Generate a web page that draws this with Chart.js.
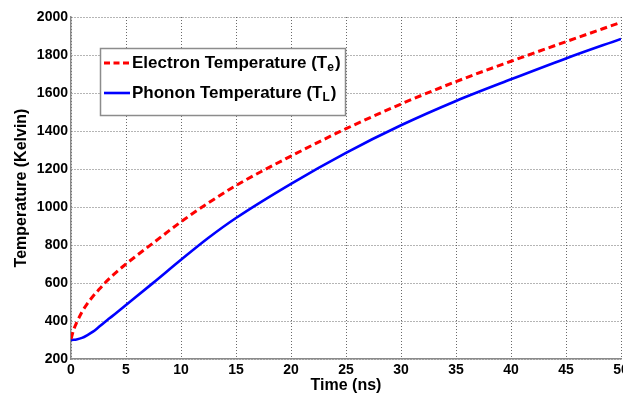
<!DOCTYPE html>
<html>
<head>
<meta charset="utf-8">
<script src="https://cdn.jsdelivr.net/npm/chart.js@4.4.1/dist/chart.umd.min.js"></script>
<style>
    html, body { margin: 0; padding: 0; background: #fff; overflow: hidden; }
    canvas { display: block; }
</style>
</head>
<body>
<canvas id="tempChart" width="623" height="396"></canvas>
<script>
// Zaman ekseni (ns)
var timeNs = [0, 0.25, 0.5, 1, 1.5, 2, 2.5, 3, 3.5, 4, 5, 7.5, 10, 12.5, 15, 20, 25, 30, 35, 40, 45, 50];
// Elektron sicakligi (K)
var electronTemp = [305, 355, 390, 448, 493, 530, 563, 595, 624, 651, 700, 812, 922, 1022, 1113, 1268, 1412, 1542, 1660, 1767, 1870, 1972];
// Fonon sicakligi (K)
var phononTemp = [300, 301, 303, 311, 326, 344, 367, 391, 414, 437, 484, 602, 722, 838, 942, 1122, 1285, 1430, 1558, 1672, 1782, 1885];

var seriesNames = ['Electron Temperature (T', 'Phonon Temperature (T'];
var seriesSubs = ['e', 'L'];

var xTickValues = [0, 5, 10, 15, 20, 25, 30, 35, 40, 45, 50];
var yTickValues = [200, 400, 600, 800, 1000, 1200, 1400, 1600, 1800, 2000];

var FONT = '"Liberation Sans", Arial, sans-serif';

function toPoints(xs, ys) {
    return xs.map(function(x, i) {
        return { x: x, y: ys[i] };
    });
}

// Alt indisli etiketler icin elle cizilen lejant
var legendBox = {
    id: 'legendBox',
    afterDraw: function(chart) {
        var ctx = chart.ctx;
        ctx.save();
        ctx.fillStyle = '#ffffff';
        ctx.fillRect(100.5, 48.5, 245, 67);
        ctx.strokeStyle = '#8c8c8c';
        ctx.lineWidth = 1.5;
        ctx.strokeRect(100.5, 48.5, 245, 67);

        chart.data.datasets.forEach(function(ds, i) {
            var y = 63 + i * 30;
            ctx.strokeStyle = ds.borderColor;
            ctx.lineWidth = ds.borderWidth;
            ctx.setLineDash(ds.borderDash ? [6, 3.5] : []);
            ctx.beginPath();
            ctx.moveTo(104, y);
            ctx.lineTo(130, y);
            ctx.stroke();
            ctx.setLineDash([]);

            ctx.fillStyle = '#000';
            ctx.textBaseline = 'middle';
            ctx.font = 'bold 17px ' + FONT;
            var x = 132;
            ctx.fillText(seriesNames[i], x, y);
            x += ctx.measureText(seriesNames[i]).width;
            ctx.font = 'bold 12px ' + FONT;
            ctx.fillText(seriesSubs[i], x, y + 5);
            x += ctx.measureText(seriesSubs[i]).width + 1;
            ctx.font = 'bold 17px ' + FONT;
            ctx.fillText(')', x, y);
        });
        ctx.restore();
    }
};

var gridStyle = {
    color: 'rgba(80, 80, 80, 0.85)',
    lineWidth: 1,
    drawTicks: false
};

function plainLabel(value) {
    return String(value);
}

new Chart(document.getElementById('tempChart'), {
    type: 'line',
    data: {
        datasets: [
            {
                label: seriesNames[0] + seriesSubs[0] + ')',
                data: toPoints(timeNs, electronTemp),
                borderColor: '#ff0000',
                borderWidth: 3,
                borderDash: [7, 4],
                pointRadius: 0,
                cubicInterpolationMode: 'monotone',
                fill: false
            },
            {
                label: seriesNames[1] + seriesSubs[1] + ')',
                data: toPoints(timeNs, phononTemp),
                borderColor: '#0000ff',
                borderWidth: 2.6,
                pointRadius: 0,
                cubicInterpolationMode: 'monotone',
                fill: false
            }
        ]
    },
    options: {
        responsive: false,
        animation: false,
        events: [],
        layout: {
            padding: { top: 17, right: 2, bottom: 0, left: 0 }
        },
        scales: {
            x: {
                type: 'linear',
                min: 0,
                max: 50,
                afterBuildTicks: function(scale) {
                    scale.ticks = xTickValues.map(function(v) { return { value: v }; });
                },
                afterFit: function(scale) {
                    scale.height = 37;
                    scale.paddingLeft = 0;
                    scale.paddingRight = 0;
                },
                grid: gridStyle,
                border: { display: true, color: '#8a8a8a', width: 1.5, dash: [1, 2] },
                ticks: {
                    color: '#000',
                    padding: 3,
                    maxRotation: 0,
                    callback: plainLabel,
                    font: { family: FONT, size: 14, weight: 'bold' }
                },
                title: {
                    display: true,
                    text: 'Time (ns)',
                    color: '#000',
                    padding: { top: 0, bottom: 1 },
                    font: { family: FONT, size: 16, weight: 'bold' }
                }
            },
            y: {
                min: 200,
                max: 2000,
                afterBuildTicks: function(scale) {
                    scale.ticks = yTickValues.map(function(v) { return { value: v }; });
                },
                afterFit: function(scale) {
                    scale.width = 71;
                    scale.paddingTop = 0;
                    scale.paddingBottom = 0;
                },
                grid: gridStyle,
                border: { display: true, color: '#8a8a8a', width: 1.5, dash: [1, 2] },
                ticks: {
                    color: '#000',
                    padding: 3,
                    callback: plainLabel,
                    font: { family: FONT, size: 14, weight: 'bold' }
                },
                title: {
                    display: true,
                    text: 'Temperature (Kelvin)',
                    color: '#000',
                    padding: { top: 12, bottom: 0 },
                    font: { family: FONT, size: 16, weight: 'bold' }
                }
            }
        },
        plugins: {
            legend: { display: false },
            tooltip: { enabled: false }
        }
    },
    plugins: [legendBox]
});
</script>
</body>
</html>
